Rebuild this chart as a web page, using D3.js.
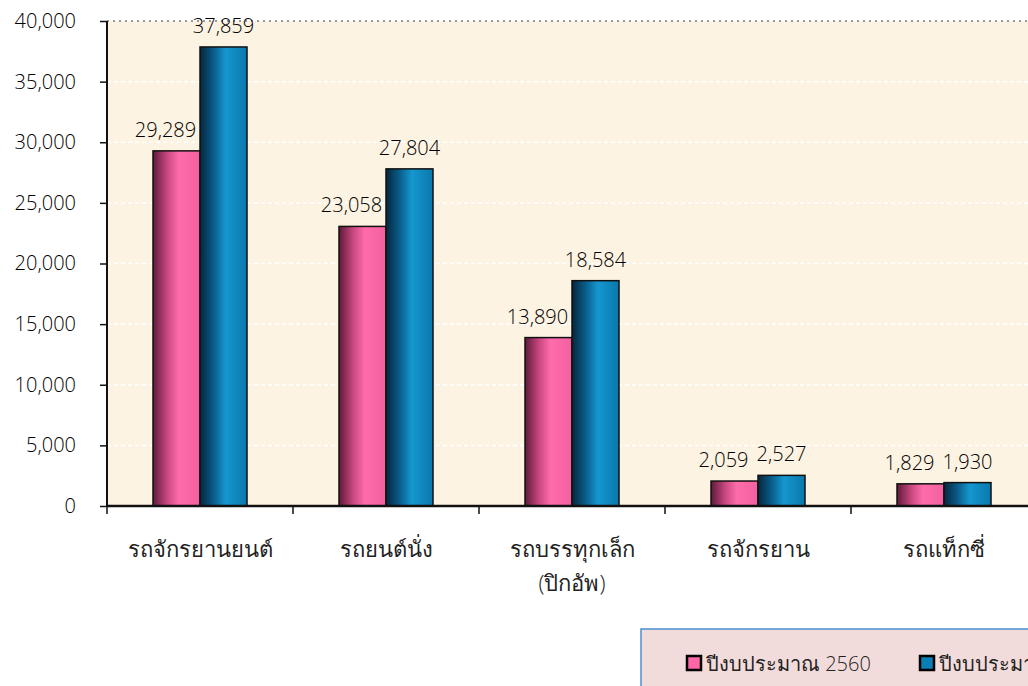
<!DOCTYPE html>
<html>
<head>
<meta charset="utf-8">
<script src="https://cdn.jsdelivr.net/npm/d3@7"></script>
<style>
  body { margin: 0; background: #fff; overflow: hidden; }
  svg { display: block; font-family: "Open Sans", "Noto Sans", sans-serif; font-weight: 300; }
</style>
</head>
<body>
<div id="chart"></div>
<script>
var categories = ['รถจักรยานยนต์', 'รถยนต์นั่ง', 'รถบรรทุกเล็ก\n(ปิกอัพ)', 'รถจักรยาน', 'รถแท็กซี่']
var series = ['ปีงบประมาณ 2560', 'ปีงบประมาณ 2561']
var values2560 = [29289, 23058, 13890, 2059, 1829]
var values2561 = [37859, 27804, 18584, 2527, 1930]
var yTicks = [0, 5000, 10000, 15000, 20000, 25000, 30000, 35000, 40000]

var width = 1028, height = 686
var margin = { top: 21, left: 107 }
var plotW = 186 * 5, plotH = 485

var svg = d3.select('#chart').append('svg')
    .attr('width', width)
    .attr('height', height)

var defs = svg.append('defs')
var gp = defs.append('linearGradient').attr('id', 'gPink')
gp.append('stop').attr('offset', '0%').attr('stop-color', '#5e1a3a')
gp.append('stop').attr('offset', '30%').attr('stop-color', '#c8477f')
gp.append('stop').attr('offset', '55%').attr('stop-color', '#ff6cac')
gp.append('stop').attr('offset', '100%').attr('stop-color', '#f2609f')
var gb = defs.append('linearGradient').attr('id', 'gBlue')
gb.append('stop').attr('offset', '0%').attr('stop-color', '#06263c')
gb.append('stop').attr('offset', '30%').attr('stop-color', '#0a5f8e')
gb.append('stop').attr('offset', '55%').attr('stop-color', '#1597cf')
gb.append('stop').attr('offset', '100%').attr('stop-color', '#0a78ac')

var g = svg.append('g').attr('transform', `translate(${margin.left},${margin.top})`)

var x0 = d3.scaleBand().domain(categories).range([0, plotW]).paddingInner(0).paddingOuter(0)
var x1 = d3.scaleBand().domain(series).range([46, 140])
var y = d3.scaleLinear().domain([0, 40000]).range([plotH, 0])

// plot background
g.append('rect')
    .attr('x', 0).attr('y', 0)
    .attr('width', plotW).attr('height', plotH)
    .attr('fill', '#fdf3e2')

// gridlines
g.selectAll('.grid')
    .data(yTicks.filter(d => d > 0 && d < 40000))
    .enter().append('line')
    .attr('x1', 0).attr('x2', plotW)
    .attr('y1', d => y(d)).attr('y2', d => y(d))
    .attr('stroke', '#ffffff')
    .attr('stroke-width', 1.5)
    .attr('stroke-dasharray', '4,3')

g.append('line')
    .attr('x1', 0).attr('x2', plotW)
    .attr('y1', y(40000)).attr('y2', y(40000))
    .attr('stroke', '#999')
    .attr('stroke-width', 2)
    .attr('stroke-dasharray', '2,4')

var data = categories.map((c, i) => ({ cat: c, v: [values2560[i], values2561[i]] }))

var groups = g.selectAll('.cat')
    .data(data)
    .enter().append('g')
    .attr('class', 'cat')
    .attr('transform', d => `translate(${x0(d.cat)},0)`)

var fills = ['url(#gPink)', 'url(#gBlue)']

groups.selectAll('rect')
    .data(d => d.v.map((v, i) => ({ s: series[i], v: v, i: i })))
    .enter().append('rect')
    .attr('x', d => x1(d.s))
    .attr('y', d => y(d.v))
    .attr('width', x1.bandwidth())
    .attr('height', d => plotH - y(d.v))
    .attr('fill', d => fills[d.i])
    .attr('stroke', '#111')
    .attr('stroke-width', 1.5)

groups.selectAll('.lbl')
    .data(d => d.v.map((v, i) => ({ s: series[i], v: v, i: i })))
    .enter().append('text')
    .attr('class', 'lbl')
    .attr('x', d => x1(d.s) + x1.bandwidth() / 2 - (d.i == 0 ? 11 : 0))
    .attr('y', d => y(d.v) - 14)
    .attr('text-anchor', 'middle')
    .attr('font-size', 20)
    .attr('fill', '#000')
    .text(d => d3.format(',')(d.v))

// y axis
var yAxis = g.append('g')
    .call(d3.axisLeft(y).tickValues(yTicks).tickFormat(d3.format(',')).tickSize(7).tickPadding(24))
yAxis.attr('font-family', null).attr('font-size', null)
yAxis.select('.domain').attr('stroke', '#111').attr('stroke-width', 2).attr('d', `M0,${plotH}V0`)
yAxis.selectAll('.tick line').attr('stroke', '#111').attr('stroke-width', 1.5)
yAxis.selectAll('.tick text').attr('font-size', 20).attr('fill', '#000')

// x axis
var xAxis = g.append('g')
    .attr('transform', `translate(0,${plotH})`)
    .call(d3.axisBottom(x0).tickSize(0).tickFormat(''))
xAxis.attr('font-family', null).attr('font-size', null)
xAxis.select('.domain').attr('stroke', '#111').attr('stroke-width', 2.5).attr('d', `M0,0H${plotW}`)
xAxis.selectAll('.sep')
    .data(d3.range(0, 6))
    .enter().append('line')
    .attr('x1', d => d * x0.step()).attr('x2', d => d * x0.step())
    .attr('y1', 0).attr('y2', 8)
    .attr('stroke', '#111').attr('stroke-width', 1.5)

xAxis.selectAll('.catlbl')
    .data(categories)
    .enter().append('text')
    .attr('x', d => x0(d) + x0.bandwidth() / 2)
    .attr('y', 51)
    .attr('text-anchor', 'middle')
    .attr('font-size', 22)
    .attr('fill', '#222')
    .each(function (d) {
        var lines = d.split('\n')
        d3.select(this).selectAll('tspan')
            .data(lines)
            .enter().append('tspan')
            .attr('x', x0(d) + x0.bandwidth() / 2)
            .attr('dy', (l, i) => i == 0 ? 0 : 34)
            .text(l => l)
    })

// legend
var legend = svg.append('g').attr('transform', 'translate(641,629)')
legend.append('rect')
    .attr('x', 0).attr('y', 0)
    .attr('width', 400).attr('height', 70)
    .attr('fill', '#f2dcdb')
    .attr('stroke', '#4a90d0')
    .attr('stroke-width', 1.5)

var legendColors = ['#ff66a8', '#0a7fb5']
var legendX = [46, 279]
series.forEach(function (s, i) {
    legend.append('rect')
        .attr('x', legendX[i]).attr('y', 27)
        .attr('width', 14).attr('height', 14)
        .attr('fill', legendColors[i])
        .attr('stroke', '#000')
        .attr('stroke-width', 2.5)
    legend.append('text')
        .attr('x', legendX[i] + 19).attr('y', 42)
        .attr('font-size', 20)
        .attr('fill', '#222')
        .text(s)
})
</script>
</body>
</html>
